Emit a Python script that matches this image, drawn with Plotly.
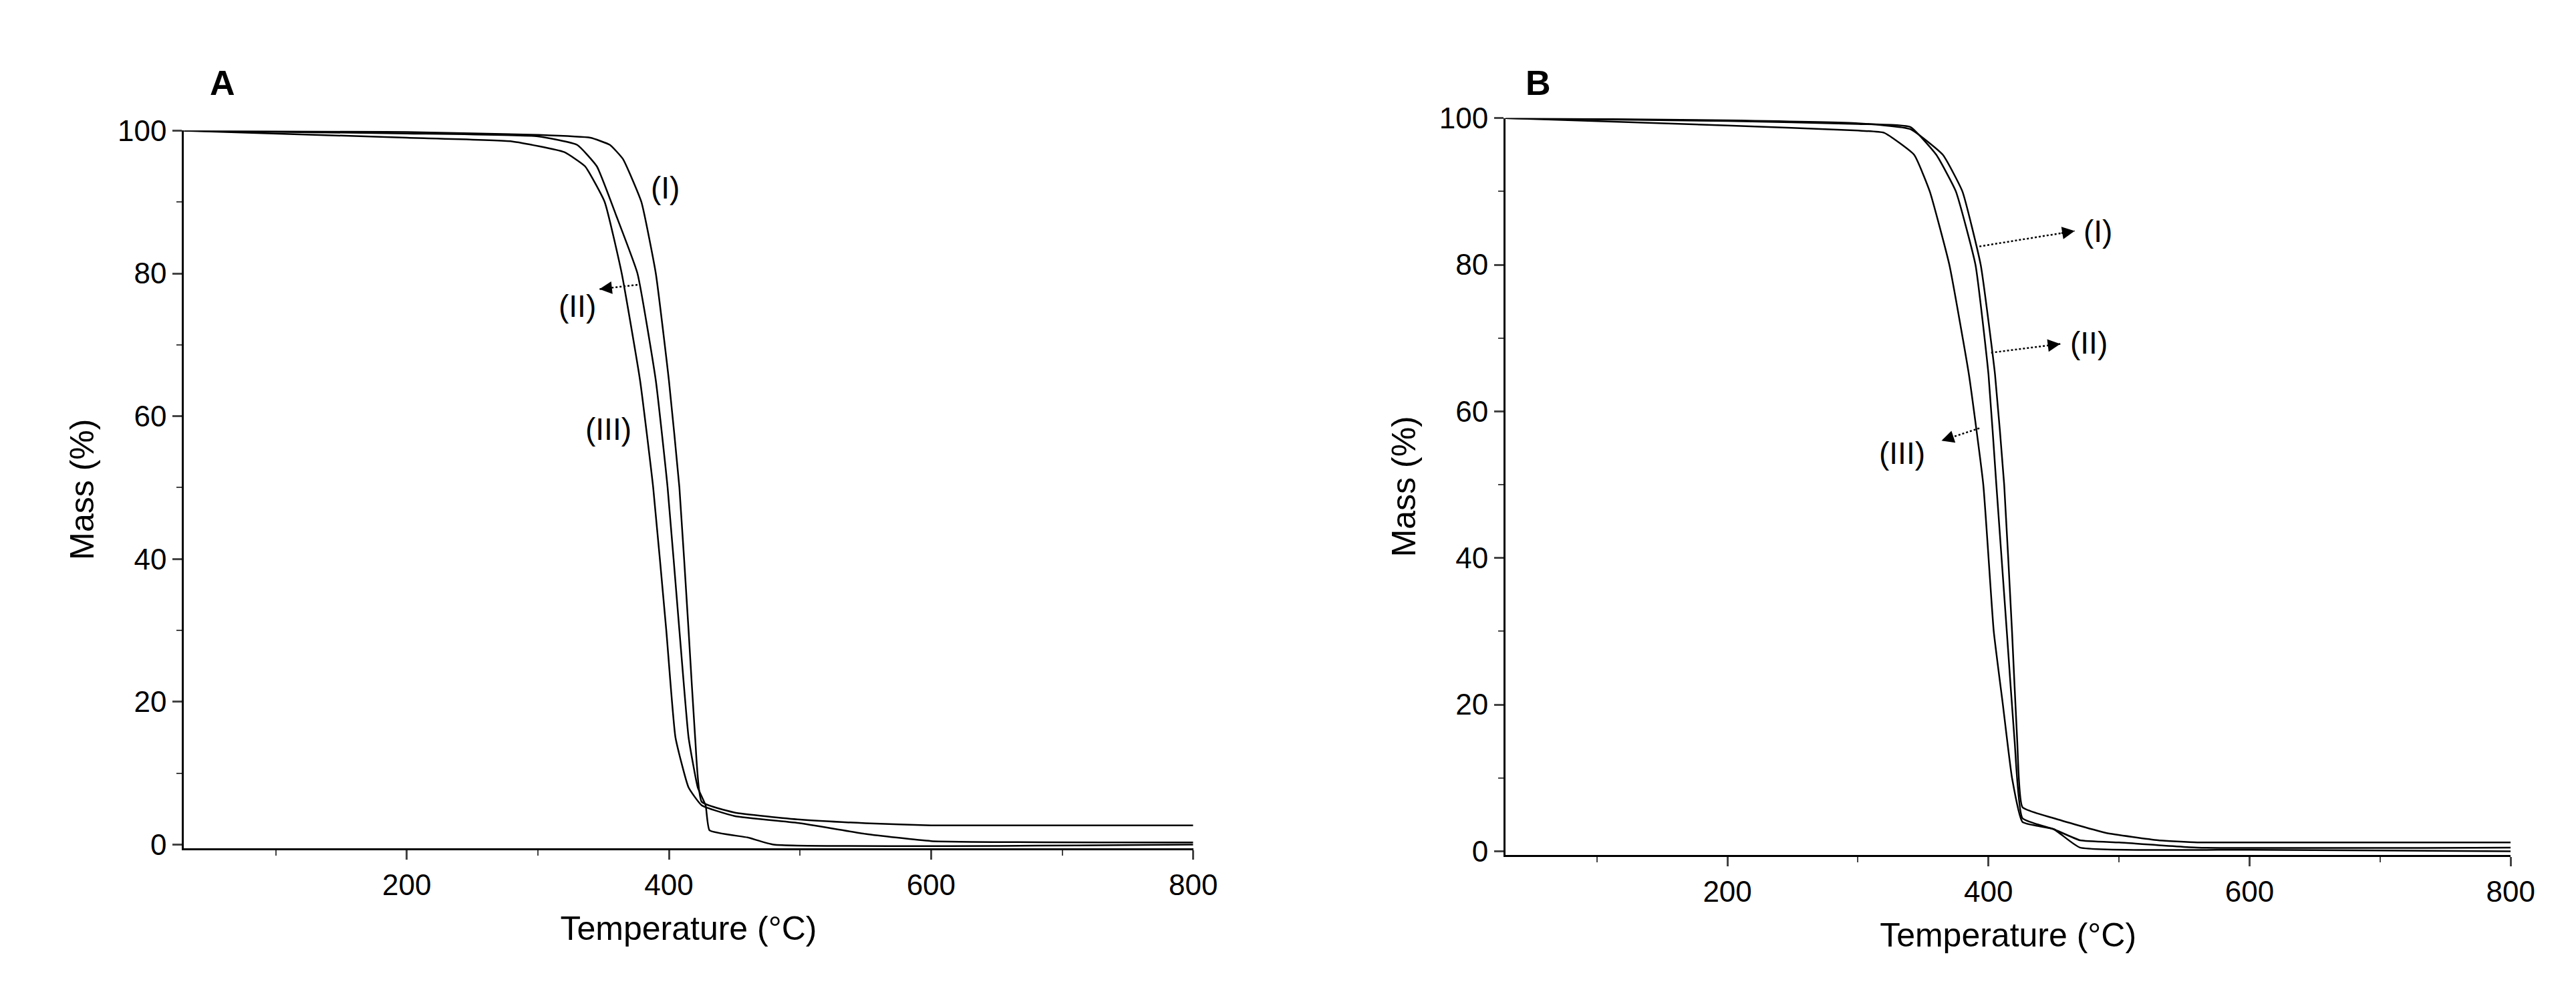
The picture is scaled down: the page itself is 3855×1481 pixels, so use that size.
import plotly.graph_objects as go

# Panel A
a1_t = [30, 200, 300, 340, 355, 365, 379, 390, 400, 408, 415, 420, 425, 450, 500, 550, 600, 800]
a1_m = [100, 99.8, 99.4, 99, 98, 96, 90, 80, 65, 50, 30, 15, 6, 4.5, 3.5, 3, 2.7, 2.7]
a2_t = [30, 200, 300, 330, 345, 360, 376, 390, 399, 408, 415, 422, 428, 431, 460, 480, 800]
a2_m = [100, 99.6, 99.2, 98, 95, 88, 80, 65, 50, 30, 15, 8, 5.5, 2, 1, 0, 0]
a3_t = [30, 200, 280, 320, 336, 351, 364, 378, 388, 398, 405, 415, 425, 450, 500, 550, 600, 800]
a3_m = [100, 99, 98.5, 97, 95, 90, 80, 65, 50, 30, 15, 8, 5.5, 4, 3, 1.5, 0.5, 0.3]
# Panel B
b1_t = [30, 200, 300, 340, 365, 380, 394, 405, 412, 418, 422, 426, 450, 490, 530, 560, 800]
b1_m = [100, 99.7, 99.3, 98.5, 95, 90, 80, 65, 50, 30, 15, 6, 4.5, 2.5, 1.5, 1.2, 1.2]
b2_t = [30, 200, 300, 340, 360, 375, 390, 400, 406, 414, 420, 426, 450, 470, 500, 560, 800]
b2_m = [100, 99.6, 99.2, 98.8, 95, 90, 80, 65, 50, 30, 15, 4.5, 3, 1.5, 1.2, 0.5, 0.5]
b3_t = [30, 200, 300, 320, 343, 355, 370, 385, 396, 404, 411, 418, 426, 450, 470, 600, 800]
b3_m = [100, 99, 98.3, 98, 95, 90, 80, 65, 50, 30, 20, 10, 4, 3, 0.5, 0.2, 0]

fig = go.Figure()
for t, m in [(a1_t, a1_m), (a2_t, a2_m), (a3_t, a3_m)]:
    fig.add_trace(go.Scatter(x=t, y=m, mode="lines", line=dict(color="black", width=2.5, shape="spline", smoothing=0.4), xaxis="x", yaxis="y", showlegend=False))
for t, m in [(b1_t, b1_m), (b2_t, b2_m), (b3_t, b3_m)]:
    fig.add_trace(go.Scatter(x=t, y=m, mode="lines", line=dict(color="black", width=2.5, shape="spline", smoothing=0.4), xaxis="x2", yaxis="y2", showlegend=False))

FONT = "Liberation Sans, Arial, sans-serif"
ax = dict(range=[30, 800], tickvals=[200, 400, 600, 800], showline=True, linecolor="black", linewidth=3,
          ticks="outside", ticklen=14, tickwidth=2.5, showgrid=False, zeroline=False,
          minor=dict(tickvals=[100, 300, 500, 700], ticks="outside", ticklen=8, tickwidth=2),
          tickfont=dict(size=44, family=FONT, color="black"),
          title=dict(text="Temperature (°C)", font=dict(size=50, family=FONT, color="black"), standoff=25))
ay = dict(range=[-0.5, 100], tickvals=[0, 20, 40, 60, 80, 100], showline=True, linecolor="black", linewidth=3,
          ticks="outside", ticklen=14, tickwidth=2.5, showgrid=False, zeroline=False,
          minor=dict(tickvals=[10, 30, 50, 70, 90], ticks="outside", ticklen=8, tickwidth=2),
          tickfont=dict(size=44, family=FONT, color="black"),
          title=dict(text="Mass (%)", font=dict(size=50, family=FONT, color="black"), standoff=20))

fig.update_layout(
    width=3855, height=1481, paper_bgcolor="white", plot_bgcolor="white",
    margin=dict(l=0, r=0, t=0, b=0),
    xaxis=dict(ax, domain=[0.070, 0.4656], anchor="y"),
    yaxis=dict(ay, domain=[0.140, 0.887], anchor="x"),
    xaxis2=dict(ax, domain=[0.588, 0.982], anchor="y2"),
    yaxis2=dict(ay, domain=[0.133, 0.900], anchor="x2"),
)

def lab(text, x, y, xr, yr):
    fig.add_annotation(text=text, x=x, y=y, xref=xr, yref=yr, showarrow=False,
                       font=dict(size=46, family=FONT, color="black"))

def arr(x0, y0, x1, y1, xr, yr):
    fig.add_shape(type="line", x0=x0, y0=y0, x1=x1, y1=y1, xref=xr, yref=yr,
                  line=dict(color="black", width=2.5, dash="dot"))
    fig.add_annotation(x=x1, y=y1, ax=x0, ay=y0, xref=xr, yref=yr, axref=xr, ayref=yr,
                       text="", showarrow=True, arrowhead=2, arrowsize=1.5, arrowwidth=2, arrowcolor="rgba(0,0,0,0)",
                       standoff=0)
    fig.add_annotation(x=x1, y=y1, ax=x1 - (x1 - x0) * 0.15, ay=y1 - (y1 - y0) * 0.15, xref=xr, yref=yr,
                       axref=xr, ayref=yr, text="", showarrow=True, arrowhead=2, arrowsize=1.5,
                       arrowwidth=2.5, arrowcolor="black", standoff=0)

lab("(I)", 397, 92, "x", "y")
lab("(II)", 330, 75.4, "x", "y")
arr(376, 78.4, 347, 77.8, "x", "y")
lab("(III)", 354, 58.2, "x", "y")

lab("(I)", 484, 84.6, "x2", "y2")
arr(393, 82.5, 466, 84.6, "x2", "y2")
lab("(II)", 477, 69.3, "x2", "y2")
arr(402, 68, 455, 69.2, "x2", "y2")
lab("(III)", 334, 54.3, "x2", "y2")
arr(393, 57.7, 364, 56, "x2", "y2")

fig.add_annotation(text="<b>A</b>", x=307 / 3855, y=1 - 62 / 1481, xref="paper", yref="paper",
                   showarrow=False, font=dict(size=52, family=FONT, color="black"))
fig.add_annotation(text="<b>B</b>", x=2316 / 3855, y=1 - 62 / 1481, xref="paper", yref="paper",
                   showarrow=False, font=dict(size=52, family=FONT, color="black"))

fig.write_html("out.html")
